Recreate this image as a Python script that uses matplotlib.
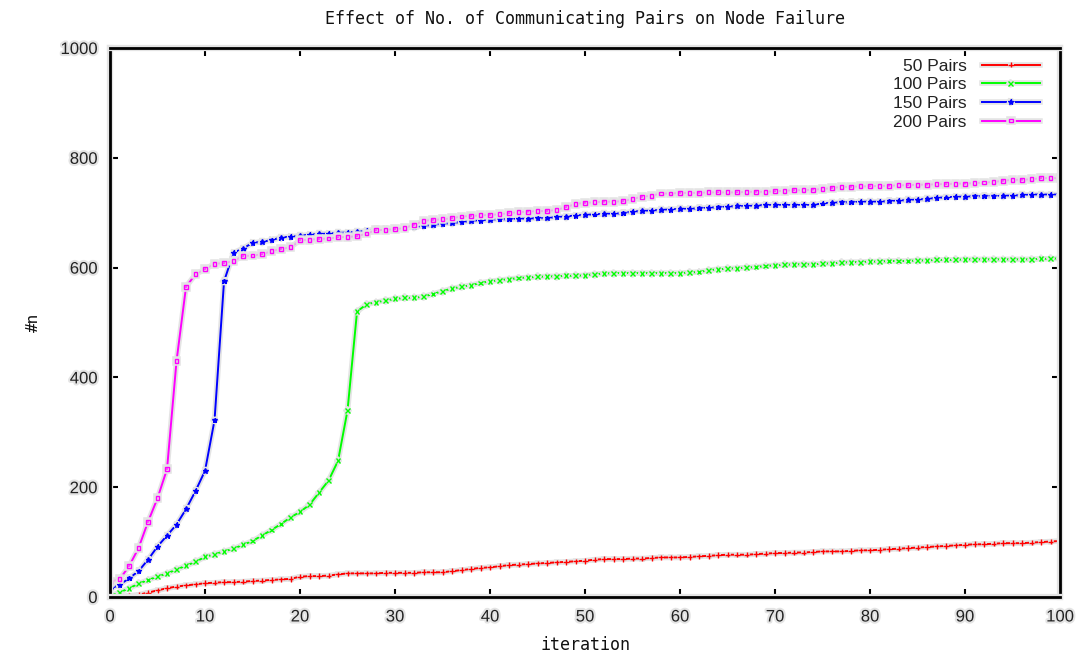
import numpy as np
import matplotlib
matplotlib.use('Agg')
import matplotlib.pyplot as plt
import matplotlib.patheffects as pe

# ===================== DATA =====================
iterations = list(range(0, 101))

pairs_50 = [0, 1, 2, 4, 8, 12, 16, 19, 21, 23,
            25, 26, 27, 27, 28, 29, 30, 31, 32, 33,
            37, 38, 38, 39, 41, 43, 43, 43, 43, 44,
            44, 44, 44, 45, 45, 45, 47, 49, 51, 53,
            54, 56, 58, 59, 60, 61, 62, 63, 64, 65,
            66, 68, 69, 69, 69, 70, 70, 71, 72, 72,
            72, 73, 74, 75, 76, 77, 77, 77, 78, 79,
            80, 80, 81, 81, 82, 83, 83, 83, 84, 85,
            85, 86, 87, 88, 89, 90, 91, 92, 93, 94,
            95, 96, 96, 97, 98, 98, 98, 99, 100, 101,
            102]

pairs_100 = [2, 8, 16, 24, 31, 37, 43, 50, 57, 64,
             73, 78, 83, 88, 95, 102, 112, 122, 133, 145,
             155, 168, 190, 212, 248, 340, 520, 533, 537, 540,
             543, 545, 545, 547, 552, 557, 562, 565, 568, 572,
             575, 577, 579, 581, 582, 583, 584, 584, 585, 585,
             586, 588, 589, 590, 590, 590, 590, 590, 590, 590,
             590, 591, 592, 595, 597, 598, 599, 600, 601, 603,
             604, 605, 606, 606, 606, 607, 608, 609, 610, 610,
             611, 611, 612, 612, 612, 613, 613, 614, 614, 614,
             615, 615, 615, 615, 615, 615, 615, 615, 616, 616,
             617]

pairs_150 = [15, 22, 34, 47, 68, 92, 112, 132, 160, 193,
             230, 322, 575, 627, 635, 645, 647, 650, 655, 656,
             658, 660, 661, 662, 663, 664, 665, 667, 670, 670,
             671, 672, 674, 676, 678, 680, 681, 683, 685, 686,
             687, 688, 688, 689, 689, 690, 690, 692, 693, 695,
             696, 697, 698, 698, 699, 702, 703, 704, 705, 706,
             707, 707, 708, 709, 710, 711, 712, 712, 713, 714,
             714, 714, 714, 714, 714, 717, 718, 719, 719, 720,
             720, 720, 721, 722, 723, 724, 725, 727, 728, 729,
             729, 730, 730, 730, 731, 731, 732, 733, 733, 733,
             733]

pairs_200 = [28, 32, 56, 89, 137, 180, 233, 430, 565, 588,
             597, 607, 608, 612, 621, 622, 624, 630, 634, 637,
             650, 651, 652, 653, 655, 656, 657, 662, 668, 669,
             670, 672, 678, 685, 687, 688, 690, 693, 694, 695,
             696, 697, 699, 701, 702, 703, 703, 705, 710, 716,
             718, 719, 720, 720, 721, 725, 729, 731, 735, 735,
             736, 736, 736, 737, 737, 737, 737, 738, 738, 738,
             739, 740, 741, 741, 742, 743, 745, 747, 747, 748,
             748, 749, 749, 750, 750, 751, 751, 752, 752, 753,
             753, 754, 755, 756, 758, 760, 760, 761, 763, 763,
             763]

series_labels = ['50 Pairs', '100 Pairs', '150 Pairs', '200 Pairs']
series_colors = ['#ff0000', '#00ff00', '#0000ff', '#ff00ff']
series_markers = ['+', 'x', '*', 's']
series_msize = [4, 3.5, 3.8, 2.8]

x_ticks = list(range(0, 101, 10))
y_ticks = list(range(0, 1001, 200))

# ===================== PLOT =====================
halo = '#e4e4e4'
mono = 'DejaVu Sans Mono'
sans = 'Liberation Sans'

fig = plt.figure(figsize=(10.83, 6.54), dpi=100)
ax = fig.add_axes([0.1016, 0.0872, 0.8772, 0.8394])

for ys, lab, col, mk, ms in zip([pairs_50, pairs_100, pairs_150, pairs_200],
                                series_labels, series_colors,
                                series_markers, series_msize):
    ax.plot(iterations, ys, color=col, linewidth=1.4, marker=mk,
            markersize=ms,
            markerfacecolor='none' if mk == 's' else col,
            markeredgewidth=1.0, label=lab,
            path_effects=[pe.withStroke(linewidth=4, foreground=halo)])

ax.set_xlim(0, 100)
ax.set_ylim(0, 1000)
ax.set_xticks(x_ticks)
ax.set_yticks(y_ticks)
ax.tick_params(direction='in', length=6, width=1.5, top=True, right=True,
               labelsize=12, pad=9)
for t in ax.get_xticklabels() + ax.get_yticklabels():
    t.set_fontfamily(sans)
    t.set_color('#222222')
    t.set_path_effects([pe.withStroke(linewidth=3, foreground=halo)])

for s in ax.spines.values():
    s.set_linewidth(2)
    s.set_path_effects([pe.withStroke(linewidth=4.5, foreground=halo)])

ax.set_title('Effect of No. of Communicating Pairs on Node Failure',
             fontfamily=mono, fontsize=12, pad=17, color='#111111')
ax.set_xlabel('iteration', fontfamily=mono, fontsize=12, labelpad=8,
              color='#111111')
ax.set_ylabel('#n', fontfamily=mono, fontsize=11.5, labelpad=14,
              color='#111111')

leg = ax.legend(loc='upper right', frameon=False, markerfirst=False,
                prop={'family': sans, 'size': 12.5}, handlelength=3.3,
                labelspacing=0.2, borderaxespad=0.4, handletextpad=0.9,
                bbox_to_anchor=(0.993, 1.006))
for t in leg.get_texts():
    t.set_color('#222222')

fig.savefig('out.png', dpi=100, facecolor='white')
